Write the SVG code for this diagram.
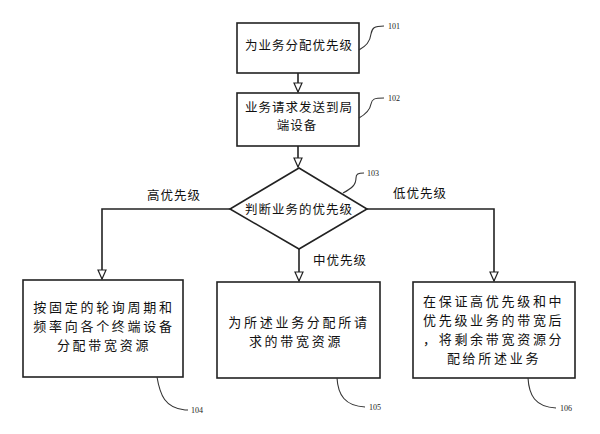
<svg xmlns="http://www.w3.org/2000/svg" width="600" height="434" viewBox="0 0 600 434">
<style>
  .box { fill: #fff; stroke: #222; stroke-width: 1.6; }
  .conn { fill: none; stroke: #222; stroke-width: 1.6; }
  .lead { fill: none; stroke: #333; stroke-width: 1.1; }
  .t { font-family: "Noto Sans CJK SC", sans-serif; font-size: 12.5px; fill: #111; letter-spacing: 1px; }
  .tb { font-family: "Noto Sans CJK SC", sans-serif; font-size: 13px; fill: #111; letter-spacing: 2.7px; }
  .num { font-family: "Liberation Serif", serif; font-size: 8px; fill: #222; }
</style>
<defs>
  <marker id="arr" markerUnits="userSpaceOnUse" markerWidth="12" markerHeight="10" refX="10" refY="5" orient="auto" viewBox="0 0 12 10">
    <path d="M1,1 L10,5 L1,9 Z" fill="#fff" stroke="#222" stroke-width="1.2"/>
  </marker>
</defs>
<rect width="600" height="434" fill="#fff"/>

<g id="connectors">
  <line class="conn" x1="298" y1="73" x2="298" y2="92" marker-end="url(#arr)"/>
  <line class="conn" x1="298" y1="146" x2="298" y2="167" marker-end="url(#arr)"/>
  <polyline class="conn" points="230,209 102,209 102,279" marker-end="url(#arr)"/>
  <line class="conn" x1="299" y1="249" x2="299" y2="281" marker-end="url(#arr)"/>
  <polyline class="conn" points="367,209 494,209 494,281" marker-end="url(#arr)"/>
  <text class="t" x="174" y="200" text-anchor="middle">高优先级</text>
  <text class="t" x="340" y="265" text-anchor="middle">中优先级</text>
  <text class="t" x="420" y="198" text-anchor="middle">低优先级</text>
</g>

<g id="n101">
  <rect class="box" x="237" y="23" width="122" height="50"/>
  <text class="t" x="299" y="50" text-anchor="middle">为业务分配优先级</text>
  <path class="lead" d="M359,50 C366,46 370,42 371,34 C372,28 374,26 384,26"/>
  <text class="num" x="388" y="29">101</text>
</g>

<g id="n102">
  <rect class="box" x="237" y="93" width="122" height="53"/>
  <text class="t" x="299" y="112" text-anchor="middle">业务请求发送到局</text>
  <text class="t" x="297" y="130" text-anchor="middle">端设备</text>
  <path class="lead" d="M359,118 C366,114 370,110 371,104 C372,99 374,98 384,98"/>
  <text class="num" x="388" y="101">102</text>
</g>

<g id="n103">
  <polygon class="box" points="299,168 367,209 299,249 230,209"/>
  <text class="t" x="299" y="214" text-anchor="middle">判断业务的优先级</text>
  <path class="lead" d="M343,193 C352,188 356,185 356,178 C356,174 358,173 364,173"/>
  <text class="num" x="367" y="176">103</text>
</g>

<g id="n104">
  <rect class="box" x="23" y="280" width="160" height="97"/>
  <text class="tb" x="104" y="312" text-anchor="middle">按固定的轮询周期和</text>
  <text class="tb" x="104" y="331" text-anchor="middle">频率向各个终端设备</text>
  <text class="tb" x="104" y="350" text-anchor="middle">分配带宽资源</text>
  <path class="lead" d="M157,377 C160,395 165,408 185,410 L188,410"/>
  <text class="num" x="191" y="413">104</text>
</g>

<g id="n105">
  <rect class="box" x="217" y="282" width="163" height="96"/>
  <text class="tb" x="299" y="327" text-anchor="middle">为所述业务分配所请</text>
  <text class="tb" x="296" y="346" text-anchor="middle">求的带宽资源</text>
  <path class="lead" d="M337,378 C338,395 345,406 365,407"/>
  <text class="num" x="369" y="410">105</text>
</g>

<g id="n106">
  <rect class="box" x="413" y="282" width="162" height="96"/>
  <text class="tb" x="423" y="306">在保证高优先级和中</text>
  <text class="tb" x="423" y="325">优先级业务的带宽后</text>
  <text class="tb" x="423" y="344">，将剩余带宽资源分</text>
  <text class="tb" x="494" y="363" text-anchor="middle">配给所述业务</text>
  <path class="lead" d="M528,378 C529,395 535,407 556,408"/>
  <text class="num" x="560" y="411">106</text>
</g>
</svg>
